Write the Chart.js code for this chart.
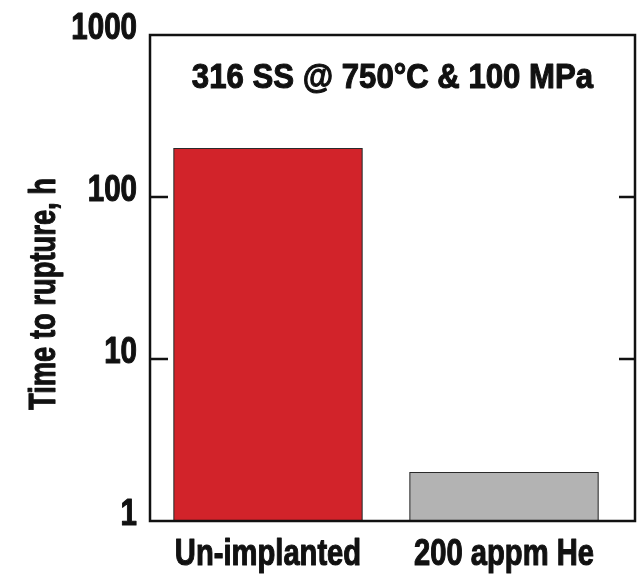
<!DOCTYPE html>
<html>
<head>
<meta charset="utf-8">
<script src="https://cdn.jsdelivr.net/npm/chart.js@4.4.1/dist/chart.umd.min.js"></script>
<style>
  html, body { margin: 0; padding: 0; background: #fff; }
  #wrap { width: 638px; height: 576px; }
</style>
</head>
<body>
<div id="wrap"><canvas id="myChart" width="638" height="576"></canvas></div>
<script>
// chart values
const categories = ['Un-implanted', '200 appm He'];
const ruptureTime = [200, 2];
const barColors = ['#D2232A', '#B3B3B3'];
const yTicks = [1, 10, 100, 1000];
const innerTicks = [10, 100];
const chartTitle = '316 SS @ 750°C & 100 MPa';
const yTitle = 'Time to rupture, h';

const FONT = '"Liberation Sans", Arial, sans-serif';

// condensed bold text (squeezed horizontally, like Helvetica Condensed)
function squeezeText(ctx, text, x, y, size, sx, align, rot) {
  ctx.save();
  ctx.translate(x, y);
  if (rot) ctx.rotate(rot);
  ctx.scale(sx, 1);
  ctx.font = 'bold ' + size + 'px ' + FONT;
  ctx.textAlign = align;
  ctx.textBaseline = 'alphabetic';
  ctx.fillStyle = '#111';
  ctx.strokeStyle = '#111';
  ctx.lineWidth = 1.1;
  ctx.lineJoin = 'round';
  ctx.fillText(text, 0, 0);
  ctx.strokeText(text, 0, 0);
  ctx.restore();
}

const framePlugin = {
  id: 'frame',
  afterDatasetsDraw(chart) {
    const { ctx, chartArea: a } = chart;
    const xs = chart.scales.x, ys = chart.scales.y;
    ctx.save();
    ctx.strokeStyle = '#111';
    ctx.lineWidth = 2.5;
    ctx.strokeRect(a.left, a.top, a.right - a.left, a.bottom - a.top);
    innerTicks.forEach(v => {
      const py = ys.getPixelForValue(v);
      ctx.beginPath();
      ctx.moveTo(a.left, py); ctx.lineTo(a.left + 18, py);
      ctx.moveTo(a.right, py); ctx.lineTo(a.right - 16, py);
      ctx.stroke();
    });
    ctx.restore();

    // y tick labels
    ys.ticks.forEach(t => {
      squeezeText(ctx, String(t.value), a.left - 13, ys.getPixelForValue(t.value) + 4, 36, 0.82, 'right');
    });
    // x category labels
    xs.ticks.forEach(t => {
      squeezeText(ctx, categories[t.value], xs.getPixelForValue(t.value), a.bottom + 44, 36, 0.81, 'center');
    });
    // titles
    squeezeText(ctx, chartTitle, (a.left + a.right) / 2, a.top + 53, 35, 0.89, 'center');
    squeezeText(ctx, yTitle, 55, (a.top + a.bottom) / 2 + 16, 36, 0.76, 'center', -Math.PI / 2);
  }
};

new Chart(document.getElementById('myChart'), {
  type: 'bar',
  data: {
    datasets: [{
      data: ruptureTime.map((v, i) => ({ x: i, y: v })),
      backgroundColor: barColors,
      borderColor: '#2a2a2a',
      borderWidth: 1.2,
      borderSkipped: 'bottom',
      barThickness: 189
    }]
  },
  options: {
    responsive: false,
    animation: false,
    layout: { padding: { top: 35, right: 3, left: 0, bottom: 0 } },
    plugins: { legend: { display: false }, tooltip: { enabled: false } },
    scales: {
      x: {
        type: 'linear',
        offset: false,
        min: -0.5,
        max: 1.555,
        afterBuildTicks: s => { s.ticks = categories.map((c, i) => ({ value: i })); },
        afterFit: s => { s.height = 55; },
        grid: { display: false, drawTicks: false },
        border: { display: false },
        ticks: { display: false }
      },
      y: {
        type: 'logarithmic',
        min: 1,
        max: 1000,
        afterBuildTicks: s => { s.ticks = yTicks.map(v => ({ value: v })); },
        afterFit: s => { s.width = 150; },
        grid: { display: false, drawTicks: false },
        border: { display: false },
        ticks: { display: false }
      }
    }
  },
  plugins: [framePlugin]
});
</script>
</body>
</html>
